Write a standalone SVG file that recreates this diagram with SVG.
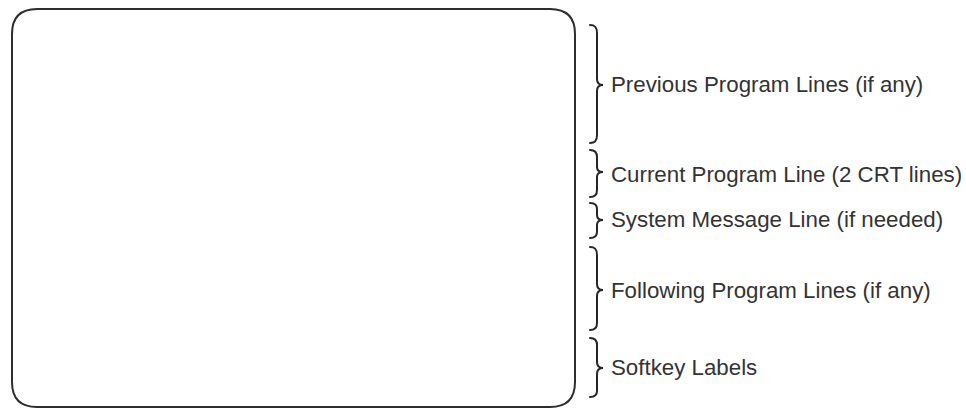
<svg xmlns="http://www.w3.org/2000/svg" width="966" height="409" viewBox="0 0 966 409">
<style>
.scr{fill:#ffffff;stroke:#2e2e2e;stroke-width:2}
.br{fill:none;stroke:#262626;stroke-width:2;stroke-linecap:round}
.lbl{font-family:"Liberation Sans",Arial,sans-serif;font-size:22.3px;fill:#333333}
</style>
<rect width="966" height="409" fill="#ffffff"/>
<g id="screen">
<path class="scr" d="M37,9 L550,9 Q575,9 575,34 L575,382 Q575,407 550,407 L37,407 Q12,407 12,382 L12,34 Q12,9 37,9 Z"/>
</g>
<g id="connectors">
<path class="br" d="M590,25 C595,25 597,27 597,33 L597,79 C597,83 599,85 603,85 C599,85 597,87 597,91 L597,135 C597,141 595,143 590,143"/>
<path class="br" d="M590,150 C595,150 597,152 597,157 L597,167 C597,170 599,172 603,172 C599,172 597,174 597,177 L597,190 C597,195 595,197 590,197"/>
<path class="br" d="M590,203 C595,203 597,205 597,209 L597,215 C597,218 599,220 603,220 C599,220 597,222 597,225 L597,232 C597,236 595,238 590,238"/>
<path class="br" d="M590,247 C595,247 597,249 597,255 L597,284 C597,288 599,290 603,290 C599,290 597,292 597,296 L597,323 C597,328 595,330 590,330"/>
<path class="br" d="M590,338 C595,338 597,340 597,345 L597,362 C597,366 599,368 603,368 C599,368 597,370 597,374 L597,391 C597,395 595,397 590,397"/>
</g>
<g id="label-previous"><text class="lbl" x="611" y="92">Previous Program Lines (if any)</text></g>
<g id="label-current"><text class="lbl" x="611" y="182">Current Program Line (2 CRT lines)</text></g>
<g id="label-system"><text class="lbl" x="611" y="227">System Message Line (if needed)</text></g>
<g id="label-following"><text class="lbl" x="611" y="298">Following Program Lines (if any)</text></g>
<g id="label-softkey"><text class="lbl" x="611" y="375">Softkey Labels</text></g>
</svg>
